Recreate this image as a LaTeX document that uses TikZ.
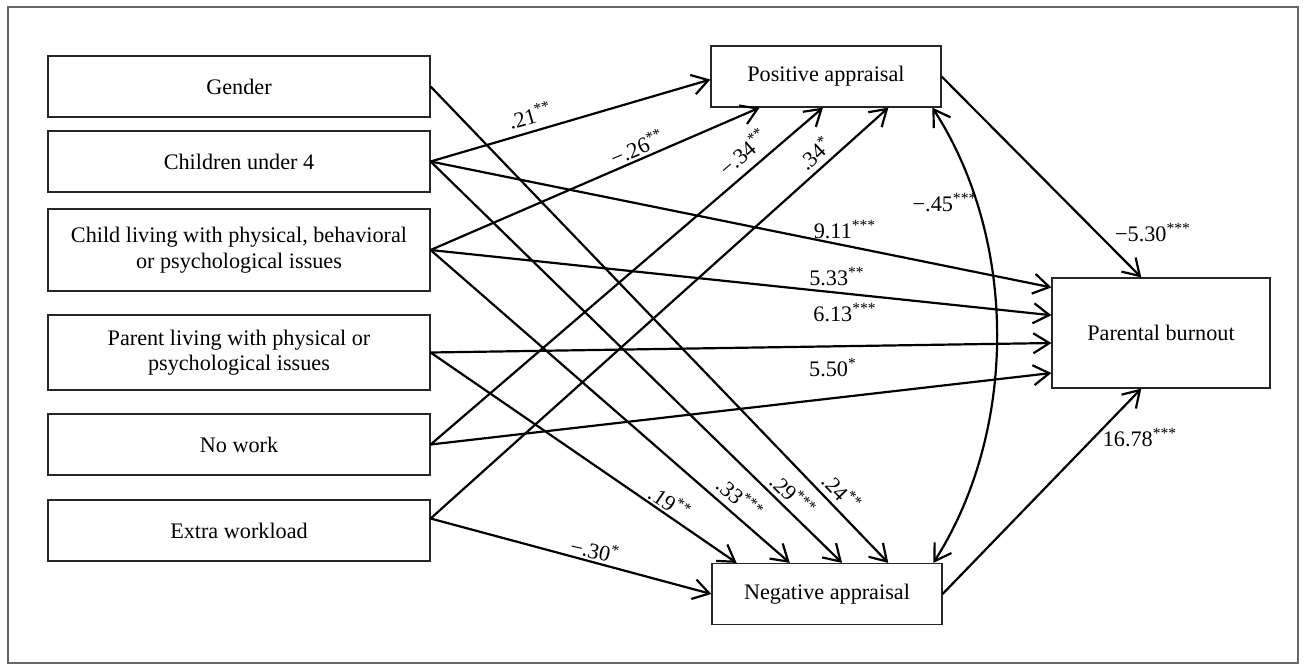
\documentclass[tikz,border=0pt]{standalone}
\usepackage{fontspec}
\setmainfont{Liberation Serif}
\usetikzlibrary{arrows.meta,calc}
\begin{document}
\begin{tikzpicture}[x=0.5pt,y=-0.5pt,
  box/.style={draw=black!85, line width=0.6pt, inner sep=0pt, minimum width=191pt, minimum height=30.5pt, align=center, font=\fontsize{11.1}{12.8}\selectfont},
  conn/.style={line width=1.1pt, -{Straight Barb[length=8pt,width=10pt,line width=1.1pt]}},
  lab/.style={font=\fontsize{11.1}{12.8}\selectfont, inner sep=0pt}]
\useasboundingbox (0,0) rectangle (1307,665);
\draw[black!60, line width=0.6pt] (8,7) rectangle (1298,663);

\node[box] (gen) at (239,86.5) {Gender};
\node[box] (ch4) at (239,161.5) {Children under 4};
\node[box, minimum height=41pt] (chl) at (239,250) {Child living with physical, behavioral\\or psychological issues};
\node[box, minimum height=37.5pt] (par) at (239,352.5) {Parent living with physical or\\psychological issues};
\node[box] (now) at (239,444.5) {No work};
\node[box] (ext) at (239,530.5) {Extra workload};
\node[box, minimum width=115pt] (pos) at (826,76.5) {Positive appraisal};
\node[box, minimum width=115pt] (neg) at (827,594) {Negative appraisal};
\node[box, minimum width=109pt, minimum height=55pt] (pb) at (1161,333) {Parental burnout};

\coordinate (extout) at ($(ext.east)+(0,-12)$);

\draw[conn] (ch4.east) -- ($(pos.west)+(0,3)$);
\draw[conn] (chl.east) -- ($(pos.south west)!0.213!(pos.south east)$);
\draw[conn] (now.east) -- ($(pos.south west)!0.487!(pos.south east)$);
\draw[conn] (extout) -- ($(pos.south west)!0.77!(pos.south east)$);
\draw[conn] (ch4.east) -- ($(pb.north west)!0.09!(pb.south west)$);
\draw[conn] (chl.east) -- ($(pb.north west)!0.34!(pb.south west)$);
\draw[conn] (par.east) -- ($(pb.north west)!0.59!(pb.south west)$);
\draw[conn] (now.east) -- ($(pb.north west)!0.86!(pb.south west)$);
\draw[conn] (par.east) -- ($(neg.north west)!0.109!(neg.north east)$);
\draw[conn] (chl.east) -- ($(neg.north west)!0.339!(neg.north east)$);
\draw[conn] (ch4.east) -- ($(neg.north west)!0.565!(neg.north east)$);
\draw[conn] (gen.east) -- ($(neg.north west)!0.765!(neg.north east)$);
\draw[conn] (extout) -- (neg.west);
\draw[conn] (pos.east) -- ($(pb.north west)!0.41!(pb.north east)$);
\draw[conn] (neg.east) -- ($(pb.south west)!0.41!(pb.south east)$);
\draw[conn, {Straight Barb[length=8pt,width=10pt,line width=1.1pt]}-{Straight Barb[length=8pt,width=10pt,line width=1.1pt]}]
  ($(pos.south west)!0.96!(pos.south east)$) .. controls (1018,240) and (1018,430) .. ($(neg.north west)!0.96!(neg.north east)$);

\node[lab, rotate=16] (l1) at (530,115) {.21\textsuperscript{**}};
\node[lab, rotate=23] (l2) at (637,147) {−.26\textsuperscript{**}};
\node[lab, rotate=41] (l3) at (743,152) {−.34\textsuperscript{**}};
\node[lab, rotate=43] (l4) at (815,153) {.34\textsuperscript{*}};
\node[lab] (l5) at (845,230) {9.11\textsuperscript{***}};
\node[lab] (l6) at (837,277) {5.33\textsuperscript{**}};
\node[lab] (l7) at (845,313) {6.13\textsuperscript{***}};
\node[lab] (l8) at (833,368) {5.50\textsuperscript{*}};
\node[lab] (l9) at (945,203) {−.45\textsuperscript{***}};
\node[lab] (l10) at (1153,233) {−5.30\textsuperscript{***}};
\node[lab] (l11) at (1140,438) {16.78\textsuperscript{***}};
\node[lab, rotate=-34] (l12) at (670,502) {.19\textsuperscript{**}};
\node[lab, rotate=-13] (l13) at (595,550) {−.30\textsuperscript{*}};
\node[lab, rotate=-41] (l14) at (740,498) {.33\textsuperscript{***}};
\node[lab, rotate=-44] (l15) at (793,495) {.29\textsuperscript{***}};
\node[lab, rotate=-46] (l16) at (842,492) {.24\textsuperscript{**}};
\end{tikzpicture}
\end{document}
